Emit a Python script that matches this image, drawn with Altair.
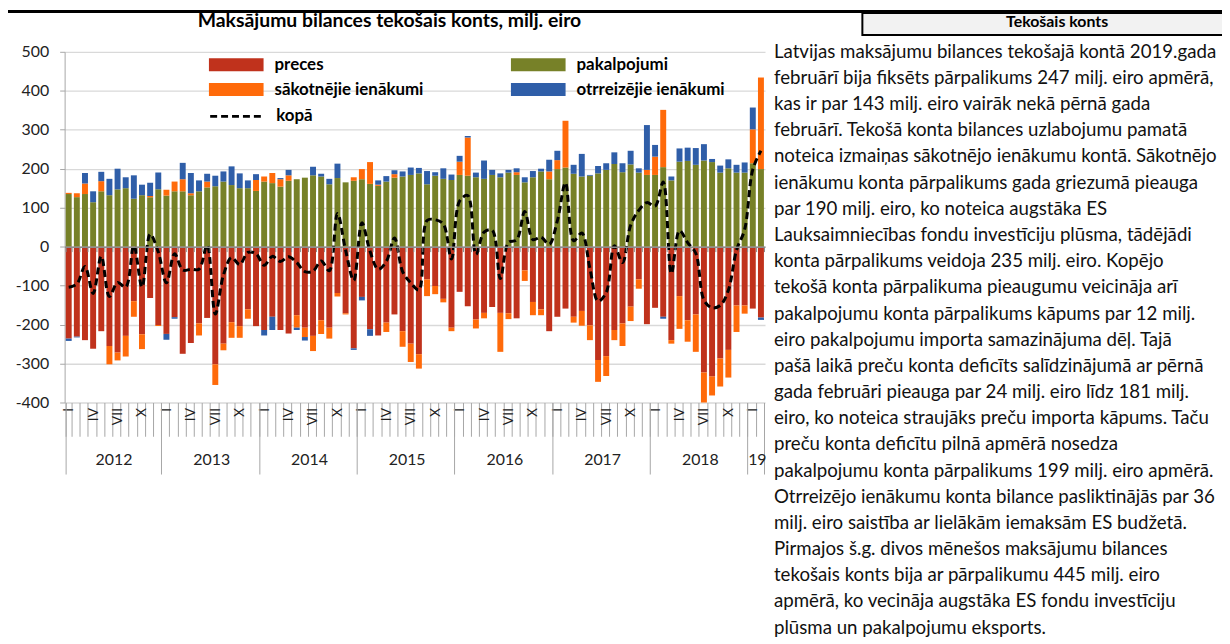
import altair as alt
import pandas as pd

FONT = "Lato"

# ---- data (milj. eiro), Jan 2012 .. Feb 2019 ----
preces = [-236, -231, -240, -262, -217, -255, -272, -229, -140, -225, -132, -201,
          -224, -181, -275, -247, -197, -183, -302, -249, -194, -204, -161, -204,
          -214, -180, -214, -223, -176, -208, -229, -189, -208, -119, -171, -261,
          -129, -212, -228, -195, -174, -217, -249, -276, -84, -101, -134, -208,
          -116, -153, -187, -170, -155, -170, -171, -184, -61, -142, -161, -217,
          -180, -159, -180, -165, -202, -291, -281, -214, -197, -154, -84, -199,
          -157, -180, -240, -127, -189, -174, -323, -333, -287, -265, -151, -151,
          -159, -182]
pakalpojumi = [135, 127, 135, 114, 142, 132, 147, 150, 123, 132, 127, 147,
               131, 142, 142, 132, 142, 152, 155, 167, 158, 150, 150, 143,
               167, 163, 154, 169, 173, 177, 183, 180, 160, 176, 165, 169,
               173, 161, 156, 167, 177, 180, 184, 188, 160, 182, 174, 171,
               184, 182, 178, 174, 184, 178, 190, 184, 165, 178, 193, 173,
               199, 203, 187, 180, 182, 188, 197, 212, 191, 211, 190, 184,
               184, 204, 170, 218, 220, 210, 221, 217, 190, 201, 190, 190,
               214, 199]
sakotnejie = [3, 10, 27, 0, 26, -47, -20, -53, -40, -38, 3, -3,
              15, 25, 31, 5, -31, 15, -53, -17, -40, -30, -24, 28,
              13, 26, 19, 14, -32, -24, -39, -35, -28, -9, -3, 9,
              26, 56, 3, -24, 9, -40, -47, -37, -43, -21, -9, -9,
              34, 98, -23, -14, 0, -100, -15, 7, -27, -34, -15, 20,
              23, 120, -15, -38, -38, -56, -51, -26, -58, -37, -24, 13,
              47, 147, -9, -84, -55, -96, -77, -49, -72, -71, -68, -21,
              87, 235]
otrreizejie = [-6, -2, 27, 28, 24, 42, 53, 28, 60, 27, 34, 43,
               -15, -4, 42, 52, 28, 20, 27, 26, 48, 38, 20, 15,
               -14, -34, 3, 14, -6, -9, 22, 7, 14, 37, 0, -4,
               -9, -17, 11, 14, 10, 13, 19, 14, 34, 9, 27, 14,
               15, 4, 12, 47, 13, 10, 7, 10, 13, 16, 7, 30,
               24, 0, 23, 58, 2, 19, 17, 30, 23, 35, 11, 115,
               30, -5, 10, 34, 34, 43, 42, 8, 18, 23, 20, 26,
               56, -6]
kopa = [-104, -96, -51, -120, -25, -128, -92, -104, 3, -104, 32, -14,
        -93, -18, -60, -58, -58, 4, -173, -73, -28, -46, -15, -18,
        -48, -25, -38, -26, -41, -64, -63, -37, -62, 85, -9, -87,
        61, -12, -58, -38, 22, -64, -93, -111, 67, 69, 58, -32,
        117, 131, -20, 37, 42, -82, 11, 17, 90, 18, 24, 6,
        66, 164, 15, 35, -56, -140, -118, 2, -41, 55, 93, 113,
        104, 166, -69, 41, 10, -17, -137, -157, -151, -112, -9, 44,
        198, 246]

month_labels = ["I", "", "", "IV", "", "", "VII", "", "", "X", "", ""]
year_labels = ["2012", "2013", "2014", "2015", "2016", "2017", "2018", "19"]

series_names = ["preces", "pakalpojumi", "sākotnējie ienākumi", "otrreizējie ienākumi"]
series_colors = ["#C0321C", "#778128", "#FF6A0A", "#2F5EA8"]

title_text = "Maksājumu bilances tekošais konts, milj. eiro"
panel_title = "Tekošais konts"
paragraph = [
    "Latvijas maksājumu bilances tekošajā kontā 2019.gada",
    "februārī bija fiksēts pārpalikums 247 milj. eiro apmērā,",
    "kas ir par 143 milj. eiro vairāk nekā pērnā gada",
    "februārī. Tekošā konta bilances uzlabojumu pamatā",
    "noteica izmaiņas sākotnējo ienākumu kontā. Sākotnējo",
    "ienākumu konta pārpalikums gada griezumā pieauga",
    "par 190 milj. eiro, ko noteica augstāka ES",
    "Lauksaimniecības fondu investīciju plūsma, tādējādi",
    "konta pārpalikums veidoja 235 milj. eiro. Kopējo",
    "tekošā konta pārpalikuma pieaugumu veicināja arī",
    "pakalpojumu konta pārpalikums kāpums par 12 milj.",
    "eiro pakalpojumu importa samazinājuma dēļ. Tajā",
    "pašā laikā preču konta deficīts salīdzinājumā ar pērnā",
    "gada februāri pieauga par 24 milj. eiro līdz 181 milj.",
    "eiro, ko noteica straujāks preču importa kāpums. Taču",
    "preču konta deficītu pilnā apmērā nosedza",
    "pakalpojumu konta pārpalikums 199 milj. eiro apmērā.",
    "Otrreizējo ienākumu konta bilance pasliktinājās par 36",
    "milj. eiro saistība ar lielākām iemaksām ES budžetā.",
    "Pirmajos š.g. divos mēnešos maksājumu bilances",
    "tekošais konts bija ar pārpalikumu 445 milj. eiro",
    "apmērā, ko vecināja augstāka ES fondu investīciju",
    "plūsma un pakalpojumu eksports.",
]

# ---- tables ----
n = len(preces)
rows = []
for j, (name, vals) in enumerate(zip(series_names, [preces, pakalpojumi, sakotnejie, otrreizejie])):
    for i in range(n):
        rows.append({"idx": i, "series": name, "value": vals[i], "ord": j})
bars_df = pd.DataFrame(rows)
line_df = pd.DataFrame({"idx": list(range(n)), "kopa": kopa, "s": ["kopā"] * n})
one = pd.DataFrame({"a": [0]})

W, H = 705, 353
step = W / n
GRAY = "#a6a6a6"

x_scale = alt.Scale(paddingInner=0.27, paddingOuter=0.135)
y_scale = alt.Scale(domain=[-400, 500], nice=False, zero=False)

legend_order = ["preces", "sākotnējie ienākumi", "pakalpojumi", "otrreizējie ienākumi"]
legend_colors = [series_colors[series_names.index(s)] for s in legend_order]

month_expr = "[" + ",".join("'%s'" % m for m in month_labels) + "][datum.value % 12]"
year_arr = "[" + ",".join("'%s'" % y for y in year_labels) + "]"
year_expr = ("(datum.value % 12 == 5 || datum.value == 84) ? " + year_arr +
             "[floor(datum.value / 12)] : ''")

axis_month = alt.Axis(
    orient="bottom", title=None, domain=False, grid=False,
    tickBand="extent", tickSize=34, tickColor=GRAY, tickWidth=1,
    labelExpr=month_expr, labelAngle=270, labelAlign="right", labelBaseline="middle",
    labelPadding=-29, labelFont=FONT, labelFontSize=14, labelColor="#222",
    labelOverlap=False, labelBound=False, labelFlush=False,
)
axis_year = alt.Axis(
    orient="bottom", title=None, domain=False, grid=False,
    tickBand="extent", tickSize=72, tickColor=GRAY, tickWidth=1,
    tickOpacity={"condition": {"test": "(datum.value + 1) % 12 == 0 || datum.value == 85 || datum.extra",
                               "value": 1}, "value": 0},
    labelExpr=year_expr, labelAngle=0, labelAlign="center", labelBaseline="top",
    labelPadding=-23, labelOffset=step / 2, labelFont=FONT, labelFontSize=16, labelColor="#222",
    labelOverlap=False, labelBound=False, labelFlush=False,
)
axis_zero = alt.Axis(
    orient="bottom", offset=-(H * 400 / 900), title=None, domain=True, domainColor="#8c8c8c",
    domainWidth=1.5, grid=False, labels=False, tickBand="extent", tickSize=5,
    tickColor="#8c8c8c", tickWidth=1, zindex=1,
)
axis_y = alt.Axis(
    title=None, values=list(range(-400, 501, 100)), grid=True, gridColor="#d9d9d9", gridWidth=1.3,
    domain=True, domainColor=GRAY, ticks=True, tickSize=5, tickColor=GRAY,
    labelExpr="'' + datum.value", labelFont=FONT, labelFontSize=16, labelColor="#222", labelPadding=11,
)

# swatch: 55 x 13 px drawn from a symbol of nominal size 27.5 px
color_legend = alt.Legend(
    orient="none", legendX=145, legendY=-1, title=None, columns=2, columnPadding=87, rowPadding=3,
    symbolType="M-2,-0.473H2V0.473H-2Z", symbolSize=756.25, symbolOffset=13.75,
    symbolStrokeWidth=0, symbolOpacity=1,
    labelFont=FONT, labelFontSize=17, labelFontWeight="bold", labelColor="black", labelOffset=24.5,
    labelLimit=400,
)
dash_legend = alt.Legend(
    orient="none", legendX=145, legendY=36, title=None,
    symbolType="stroke", symbolSize=3025, symbolStrokeWidth=3, symbolStrokeColor="black",
    labelFont=FONT, labelFontSize=17, labelFontWeight="bold", labelColor="black", labelOffset=10,
    labelLimit=400,
)

bars = alt.Chart(bars_df).mark_bar().encode(
    x=alt.X("idx:O", scale=x_scale, axis=axis_month),
    y=alt.Y("value:Q", stack="zero", scale=y_scale, axis=axis_y),
    color=alt.Color("series:N", scale=alt.Scale(domain=legend_order, range=legend_colors),
                    legend=color_legend),
    order=alt.Order("ord:Q"),
)

line = alt.Chart(line_df).mark_line(color="black", strokeWidth=3, interpolate="catmull-rom").encode(
    x=alt.X("idx:O", scale=x_scale, axis=axis_year),
    y=alt.Y("kopa:Q", scale=y_scale, axis=axis_y),
    strokeDash=alt.StrokeDash("s:N", scale=alt.Scale(domain=["kopā"], range=[[7, 4]]),
                              legend=dash_legend),
)

zero_axis_layer = alt.Chart(line_df).mark_point(opacity=0).encode(
    x=alt.X("idx:O", scale=x_scale, axis=axis_zero),
    y=alt.Y("kopa:Q", scale=y_scale, axis=axis_y),
)

# decorations (pixel positions relative to plot origin at page (65, 50))
title = alt.Chart(one).mark_text(
    text=title_text, font=FONT, fontSize=19.5, fontWeight="bold", align="center",
    baseline="middle", color="black",
).encode(x=alt.value(392 - 65), y=alt.value(19 - 50))

top_rule = alt.Chart(one).mark_rule(color="black", strokeWidth=3).encode(
    x=alt.value(-60), x2=alt.value(1200), y=alt.value(9.5 - 50))

box = alt.Chart(one).mark_rect(fill="#f2f2f2", stroke="black", strokeWidth=2).encode(
    x=alt.value(868 - 65), x2=alt.value(1240 - 65), y=alt.value(11 - 50), y2=alt.value(33 - 50))

box_text = alt.Chart(one).mark_text(
    text=panel_title, font=FONT, fontSize=16, fontWeight="bold", align="center",
    baseline="middle", color="black",
).encode(x=alt.value(1064 - 65), y=alt.value(20 - 50))

para = alt.Chart(one).mark_text(
    text=paragraph, font=FONT, fontSize=18.8, align="left", baseline="middle",
    lineHeight=26.35, color="#111",
).encode(x=alt.value(779 - 65), y=alt.value(50 - 50))

chart = alt.layer(
    bars, line, zero_axis_layer, title, top_rule, box, box_text, para
).resolve_axis(x="independent").properties(
    width=W, height=H,
    autosize=alt.AutoSizeParams(type="none"),
    padding={"left": 57, "top": 42, "right": 460, "bottom": 241},
).configure_view(stroke=None)

chart.save("out.html", embed_options={"renderer": "svg", "actions": False})
